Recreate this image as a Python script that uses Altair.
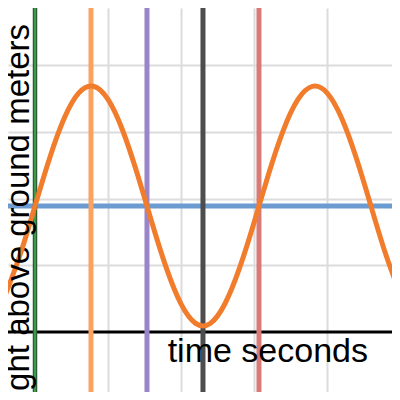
import altair as alt
import pandas as pd

# --- data ---
curve_t = [-4, -2, 0, 2, 4, 6, 8, 10, 12, 14, 16, 18, 20, 22, 24, 26, 28, 30,
           32, 34, 36, 38, 40, 42, 44, 46, 48, 50]
curve_h = [5.75, 11.73, 18.9, 26.07, 32.05, 35.86, 36.86, 34.89, 30.26, 23.76,
           16.47, 9.58, 4.21, 1.29, 1.28, 4.20, 9.54, 16.40, 23.71, 30.22,
           34.85, 36.85, 35.88, 32.10, 26.13, 18.97, 11.81, 5.80]

vline_names = ["start", "max", "mid_down", "min", "mid_up"]
vline_t = [0, 7.67, 15.34, 23.01, 30.68]
midline_h = [18.9]

grid_x = [10, 20, 30, 40]
grid_y = [10, 20, 30, 40]

x_title = "time seconds"
y_title = "height above ground meters"

# --- chart ---
curve_df = pd.DataFrame({"t": curve_t, "h": curve_h})
vline_df = pd.DataFrame({"name": vline_names, "t": vline_t})
mid_df = pd.DataFrame({"h": midline_h})
axis_df = pd.DataFrame({"h": [0]})
yaxis_df = pd.DataFrame({"t": [0]})

xscale = alt.Scale(domain=[-3.699, 48.904], nice=False, zero=False)
yscale = alt.Scale(domain=[-9.0, 48.6], nice=False, zero=False)

xaxis = alt.Axis(values=grid_x, grid=True, gridColor="#dcdcdc", gridWidth=2,
                 labels=False, ticks=False, domain=False, title=None)
yaxis = alt.Axis(values=grid_y, grid=True, gridColor="#dcdcdc", gridWidth=2,
                 labels=False, ticks=False, domain=False, title=None)

base_grid = alt.Chart(curve_df).mark_line(opacity=0).encode(
    x=alt.X("t:Q", scale=xscale, axis=xaxis),
    y=alt.Y("h:Q", scale=yscale, axis=yaxis),
)

x_axis_line = alt.Chart(axis_df).mark_rule(color="#000000", strokeWidth=3).encode(
    y=alt.Y("h:Q", scale=yscale)
)

y_axis_outer = alt.Chart(yaxis_df).mark_rule(color="#2b5e33", strokeWidth=4.5).encode(
    x=alt.X("t:Q", scale=xscale)
)
y_axis_inner = alt.Chart(yaxis_df).mark_rule(color="#3d9a4c", strokeWidth=2).encode(
    x=alt.X("t:Q", scale=xscale)
)

vlines = alt.Chart(vline_df[vline_df["name"] != "start"]).mark_rule(strokeWidth=5).encode(
    x=alt.X("t:Q", scale=xscale),
    color=alt.Color("name:N", legend=None,
                    scale=alt.Scale(domain=["max", "mid_down", "min", "mid_up"],
                                    range=["#f9a35f", "#9a85c9", "#4d4d4d", "#d77b78"])),
)

midline = alt.Chart(mid_df).mark_rule(color="#6b9bd1", strokeWidth=5).encode(
    y=alt.Y("h:Q", scale=yscale)
)

curve = alt.Chart(curve_df).mark_line(color="#f17c2c", strokeWidth=5,
                                      interpolate="natural", clip=True).encode(
    x=alt.X("t:Q", scale=xscale),
    y=alt.Y("h:Q", scale=yscale),
)

xlabel = alt.Chart(pd.DataFrame({"s": [x_title]})).mark_text(
    font="Liberation Sans", fontSize=34, align="right", baseline="alphabetic",
    color="#000000"
).encode(x=alt.value(360), y=alt.value(354), text="s:N")

ylabel = alt.Chart(pd.DataFrame({"s": [y_title]})).mark_text(
    font="Liberation Sans", fontSize=33, align="right", baseline="alphabetic",
    angle=270, color="#000000"
).encode(x=alt.value(21), y=alt.value(16), text="s:N")

chart = alt.layer(
    base_grid, x_axis_line, midline, vlines, y_axis_outer, y_axis_inner,
    curve, xlabel, ylabel
).properties(
    width=384, height=384, padding=0,
    autosize=alt.AutoSizeParams(type="none"),
).configure_view(stroke=None)

chart.save("out.html", embed_options={"renderer": "svg", "actions": False})
